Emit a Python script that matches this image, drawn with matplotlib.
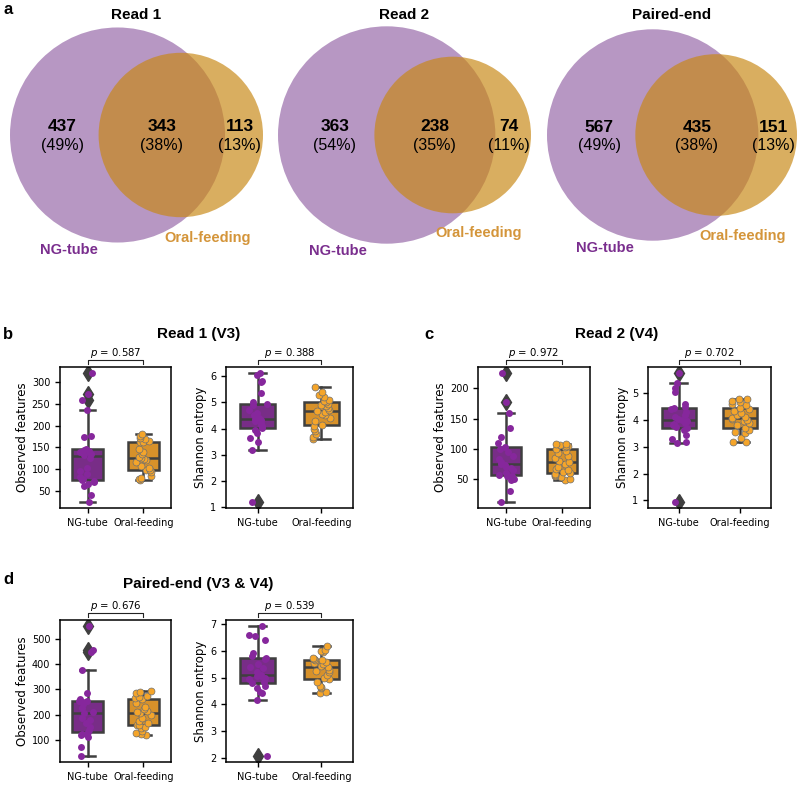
import numpy as np
import pandas as pd
import seaborn as sns
import matplotlib.pyplot as plt
from matplotlib.patches import Circle
from matplotlib.ticker import MultipleLocator

# ---- venn data (a) ----
venn_titles = ['Read 1', 'Read 2', 'Paired-end']
ng_only = [437, 363, 567]
shared = [343, 238, 435]
oral_only = [113, 74, 151]

# ---- alpha diversity data (b, c, d) ----
groups = ['NG-tube', 'Oral-feeding']

r1_obs_ng = [25, 40, 62, 66, 70, 73, 75, 76, 82, 88, 95, 102, 125, 133, 135, 138, 140, 142, 144, 146, 173, 175, 235, 258, 272, 320]
r1_obs_oral = [75, 78, 80, 85, 92, 97, 98, 102, 108, 115, 120, 124, 126, 128, 135, 140, 145, 161, 163, 165, 168, 172, 176, 181]
r1_sha_ng = [1.22, 3.18, 3.5, 3.65, 3.85, 3.95, 4.02, 4.1, 4.15, 4.2, 4.28, 4.32, 4.35, 4.42, 4.5, 4.58, 4.7, 4.9, 4.95, 5.0, 5.35, 5.78, 5.8, 6.05, 6.1]
r1_sha_oral = [3.62, 3.68, 3.8, 3.92, 4.0, 4.1, 4.15, 4.3, 4.4, 4.5, 4.55, 4.62, 4.68, 4.72, 4.8, 4.85, 4.9, 4.95, 5.0, 5.05, 5.1, 5.2, 5.28, 5.38, 5.6]

r2_obs_ng = [12, 30, 48, 50, 54, 55, 57, 60, 64, 67, 70, 72, 74, 78, 82, 88, 95, 100, 103, 110, 120, 135, 160, 177, 225]
r2_obs_oral = [48, 50, 53, 55, 57, 58, 60, 62, 64, 66, 70, 74, 78, 80, 84, 88, 92, 96, 100, 102, 104, 105, 106, 107, 108]
r2_sha_ng = [0.95, 3.13, 3.2, 3.3, 3.45, 3.62, 3.7, 3.75, 3.8, 3.85, 3.9, 3.95, 4.0, 4.05, 4.1, 4.2, 4.3, 4.4, 4.45, 4.5, 4.6, 5.05, 5.22, 5.38, 5.75]
r2_sha_oral = [3.17, 3.2, 3.32, 3.5, 3.55, 3.62, 3.72, 3.8, 3.88, 3.95, 4.0, 4.05, 4.07, 4.12, 4.2, 4.28, 4.35, 4.4, 4.45, 4.55, 4.6, 4.68, 4.72, 4.78, 4.8]

pe_obs_ng = [38, 70, 110, 118, 122, 125, 130, 140, 150, 165, 180, 185, 207, 210, 225, 240, 250, 252, 255, 260, 285, 375, 448, 455, 548]
pe_obs_oral = [118, 122, 128, 135, 145, 150, 158, 160, 165, 175, 185, 200, 207, 212, 215, 220, 230, 245, 262, 265, 270, 275, 285, 290, 293]
pe_sha_ng = [2.08, 4.18, 4.42, 4.45, 4.6, 4.7, 4.8, 4.85, 4.95, 5.0, 5.05, 5.08, 5.1, 5.2, 5.35, 5.4, 5.5, 5.7, 5.75, 5.8, 5.92, 6.4, 6.55, 6.6, 6.92]
pe_sha_oral = [4.42, 4.45, 4.6, 4.65, 4.7, 4.85, 4.95, 5.0, 5.1, 5.2, 5.25, 5.3, 5.4, 5.45, 5.5, 5.55, 5.6, 5.65, 5.68, 5.7, 5.75, 5.95, 6.0, 6.05, 6.2]

p_values = ['0.587', '0.388', '0.972', '0.702', '0.676', '0.539']

W, H = 800, 786
fig = plt.figure(figsize=(8, 7.86), dpi=100)
plt.rcParams['axes.linewidth'] = 1.1
ARIAL = 'Liberation Sans'

purple_txt = '#7a2e8e'
orange_txt = '#d4953a'


def px_axes(left, top, right, bottom):
    return fig.add_axes([left / W, 1 - bottom / H, (right - left) / W, (bottom - top) / H])


def lens_area(r1, r2, d):
    a1 = r1 ** 2 * np.arccos((d ** 2 + r1 ** 2 - r2 ** 2) / (2 * d * r1))
    a2 = r2 ** 2 * np.arccos((d ** 2 + r2 ** 2 - r1 ** 2) / (2 * d * r2))
    a3 = 0.5 * np.sqrt((-d + r1 + r2) * (d + r1 - r2) * (d - r1 + r2) * (d + r1 + r2))
    return a1 + a2 - a3


def venn(ax, a_only, ab, b_only):
    r1 = np.sqrt((a_only + ab) / np.pi)
    r2 = np.sqrt((b_only + ab) / np.pi)
    lo, hi = abs(r1 - r2) + 1e-9, r1 + r2 - 1e-9
    for _ in range(80):
        mid = (lo + hi) / 2
        if lens_area(r1, r2, mid) > ab:
            lo = mid
        else:
            hi = mid
    d = (lo + hi) / 2
    ax.add_patch(Circle((0, 0), r1, color='#b797c3', lw=0))
    ax.add_patch(Circle((d, 0), r2, color='#c88815', alpha=0.68, lw=0))
    ax.set_xlim(-r1, d + r2)
    ax.set_ylim(-r1, r1)
    ax.set_aspect('equal', adjustable='datalim')
    ax.axis('off')
    total = a_only + ab + b_only
    xs = [-r1 + 0.59 * (d - r2 + r1), (d - r2 + r1) / 2, r1 + 0.39 * (d + r2 - r1)]
    for x, n in zip(xs, [a_only, ab, b_only]):
        ax.text(x, 0.075 * r1, str(n), ha='center', va='center', fontsize=12.5,
                fontweight='bold', family=ARIAL)
        ax.text(x, -0.095 * r1, '(%d%%)' % round(100 * n / total), ha='center',
                va='center', fontsize=11.5, family=ARIAL)
    ax.text(-0.45 * r1, -1.07 * r1, 'NG-tube', ha='center', va='center', fontsize=10.5,
            fontweight='bold', color=purple_txt, family=ARIAL)
    ax.text(d + 0.33 * r2, -1.25 * r2, 'Oral-feeding', ha='center', va='center',
            fontsize=10.5, fontweight='bold', color=orange_txt, family=ARIAL)


venn_boxes = [(10, 263), (278, 531), (547, 797)]
for (l, r), t, a, ab, b in zip(venn_boxes, venn_titles, ng_only, shared, oral_only):
    ax = px_axes(l, 20, r, 250)
    venn(ax, a, ab, b)
    fig.text((l + r) / 2 / W, 1 - 15 / H, t, ha='center', va='center', fontsize=11,
             fontweight='bold', family=ARIAL)

edge = '#3f3f3f'
box_colors = ['#782d87', '#d7912a']
pt_colors = ['#86279c', '#f5a52a']


def box_panel(ax, ng, oral, ylabel, pval, step):
    bp = ax.boxplot([ng, oral], positions=[0, 1], widths=0.55, patch_artist=True,
                    boxprops=dict(linewidth=1.8, edgecolor=edge),
                    whiskerprops=dict(linewidth=1.8, color=edge),
                    capprops=dict(linewidth=1.8, color=edge),
                    medianprops=dict(linewidth=1.8, color=edge),
                    flierprops=dict(marker='d', markerfacecolor=edge, markeredgecolor=edge,
                                    markersize=8.5))
    for patch, c in zip(bp['boxes'], box_colors):
        patch.set_facecolor(c)
    sns.stripplot(x=[groups[0]] * len(ng), y=ng, order=groups, color=pt_colors[0],
                  jitter=0.15, size=5, linewidth=0, ax=ax, zorder=3)
    sns.stripplot(x=[groups[1]] * len(oral), y=oral, order=groups, color=pt_colors[1],
                  jitter=0.15, size=5, linewidth=0.5, edgecolor='#707070', ax=ax, zorder=3)
    ax.set_xlim(-0.5, 1.5)
    ax.set_xticks([0, 1], groups)
    ax.yaxis.set_major_locator(MultipleLocator(step))
    ax.tick_params(labelsize=7, length=3.5, width=1)
    ax.set_ylabel(ylabel, fontsize=8.5, labelpad=2)
    ax.set_xlabel('')
    ax.plot([0, 0, 1, 1], [1.02, 1.048, 1.048, 1.02], transform=ax.get_xaxis_transform(),
            clip_on=False, color='#222222', lw=0.8)
    ax.text(0.5, 1.1, '$p$ = ' + pval, transform=ax.get_xaxis_transform(), ha='center',
            va='center', fontsize=7.3)


np.random.seed(3)
panels = [
    ((60, 367, 171, 508), r1_obs_ng, r1_obs_oral, 'Observed features', p_values[0], 50),
    ((226, 367, 353, 508), r1_sha_ng, r1_sha_oral, 'Shannon entropy', p_values[1], 1),
    ((478, 367, 590, 508), r2_obs_ng, r2_obs_oral, 'Observed features', p_values[2], 50),
    ((648, 367, 771, 508), r2_sha_ng, r2_sha_oral, 'Shannon entropy', p_values[3], 1),
    ((60, 620, 171, 762), pe_obs_ng, pe_obs_oral, 'Observed features', p_values[4], 100),
    ((226, 620, 353, 762), pe_sha_ng, pe_sha_oral, 'Shannon entropy', p_values[5], 1),
]
for box, ng, oral, yl, pv, st in panels:
    ax = px_axes(*box)
    box_panel(ax, ng, oral, yl, pv, st)

# panel titles and letters
fig.text(199 / W, 1 - 334 / H, 'Read 1 (V3)', ha='center', va='center', fontsize=11,
         fontweight='bold', family=ARIAL)
fig.text(617 / W, 1 - 334 / H, 'Read 2 (V4)', ha='center', va='center', fontsize=11,
         fontweight='bold', family=ARIAL)
fig.text(198 / W, 1 - 584 / H, 'Paired-end (V3 & V4)', ha='center', va='center',
         fontsize=11, fontweight='bold', family=ARIAL)
for letter, x, y in [('a', 8, 10), ('b', 8, 334), ('c', 429, 334), ('d', 8, 580)]:
    fig.text(x / W, 1 - y / H, letter, ha='center', va='center', fontsize=12,
             fontweight='bold', family=ARIAL)

plt.savefig('out.png', dpi=100)
